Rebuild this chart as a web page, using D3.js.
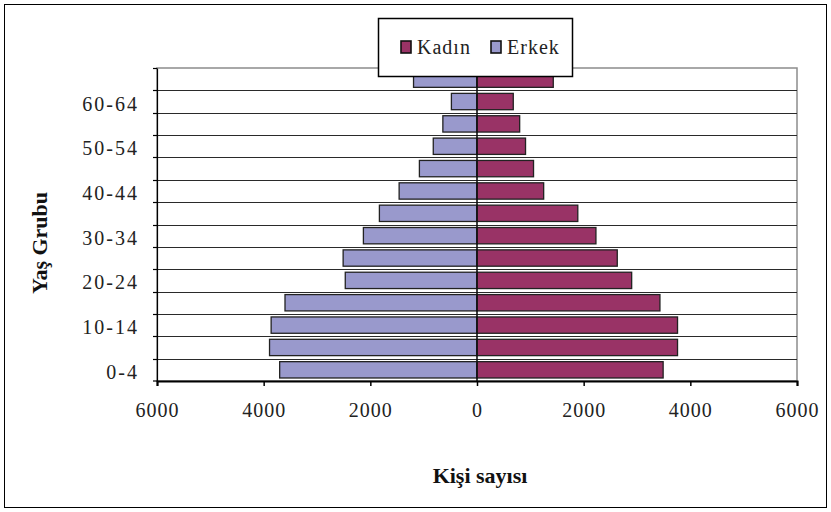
<!DOCTYPE html>
<html><head><meta charset="utf-8">
<script src="https://cdn.jsdelivr.net/npm/d3@7"></script>
<style>body{margin:0;background:#fff}svg{display:block}
svg text{font-family:"Liberation Serif","DejaVu Serif",serif !important;}</style>
</head><body>
<svg id="c" width="831" height="512"></svg>
<script>
const ageGroups = ["0-4","5-9","10-14","15-19","20-24","25-29","30-34","35-39","40-44","45-49","50-54","55-59","60-64","65+"];
const kadin = [3490, 3760, 3760, 3430, 2900, 2630, 2230, 1890, 1250, 1060, 910, 800, 680, 1430];
const erkek = [3700, 3890, 3860, 3600, 2470, 2510, 2130, 1830, 1460, 1080, 820, 640, 480, 1190];
const xTicks = [-6000, -4000, -2000, 0, 2000, 4000, 6000];
const seriesNames = ["Kadın", "Erkek"];
const colors = {"Kadın": "#993366", "Erkek": "#9999cc"};

const svg = d3.select("#c");
svg.append("rect").attr("x",4.5).attr("y",4.5).attr("width",822).attr("height",503)
  .attr("fill","#fff").attr("stroke","#000").attr("stroke-width",1);

const L = 157, R = 797, T = 68, B = 381;
const x = d3.scaleLinear().domain([-6000, 6000]).range([L, R]);
const y = d3.scaleBand().domain(ageGroups).range([B, T]).paddingInner(0.27).paddingOuter(0.135);
const yb = d3.scaleBand().domain(ageGroups).range([B, T]);

// plot border
svg.append("rect").attr("x",L).attr("y",T).attr("width",R-L).attr("height",B-T)
  .attr("fill","none").attr("stroke","#8c8c8c").attr("stroke-width",1.5);
// gridlines at category boundaries
const g = svg.append("g");
ageGroups.forEach((a,i)=>{ if(i===ageGroups.length-1) return;
  const yy = Math.round(yb(a)) + 0.5;
  g.append("line").attr("x1",L).attr("x2",R).attr("y1",yy).attr("y2",yy)
   .attr("stroke","#2a2a2a").attr("stroke-width",1.2);
});

// bars
const bars = svg.append("g");
ageGroups.forEach((a,i)=>{
  bars.append("rect").attr("x",x(-erkek[i])).attr("y",y(a)).attr("width",x(0)-x(-erkek[i])).attr("height",y.bandwidth())
    .attr("fill",colors["Erkek"]).attr("stroke","#222").attr("stroke-width",1.3);
  bars.append("rect").attr("x",x(0)).attr("y",y(a)).attr("width",x(kadin[i])-x(0)).attr("height",y.bandwidth())
    .attr("fill",colors["Kadın"]).attr("stroke","#222").attr("stroke-width",1.3);
});
// zero line
svg.append("line").attr("x1",x(0)).attr("x2",x(0)).attr("y1",T).attr("y2",B)
  .attr("stroke","#111").attr("stroke-width",1.6);

// x axis
const xa = svg.append("g").attr("transform",`translate(0,${B})`)
  .call(d3.axisBottom(x).tickValues(xTicks).tickFormat(d=>Math.abs(d)).tickSize(5).tickPadding(17));
xa.select(".domain").attr("stroke","#000").attr("stroke-width",2);
xa.selectAll(".tick line").attr("stroke","#000").attr("stroke-width",1.5);
xa.selectAll("text").attr("font-size",20).attr("letter-spacing",1).attr("fill","#222");

// y axis
const ya = svg.append("g").attr("transform",`translate(${L},0)`)
  .call(d3.axisLeft(yb).tickSize(0).tickPadding(18).tickFormat((d,i)=> i%2===0 ? d : ""));
ya.select(".domain").attr("stroke","#000").attr("stroke-width",1.2);
ya.selectAll("text").attr("font-size",20).attr("letter-spacing",2).attr("dy","0.45em").attr("fill","#222");
// y ticks at boundaries
ageGroups.forEach((a,i)=>{
  const yy = Math.round(yb(a)) + 0.5;
  svg.append("line").attr("x1",L-4).attr("x2",L).attr("y1",yy).attr("y2",yy).attr("stroke","#000").attr("stroke-width",1.2);
});
svg.append("line").attr("x1",L-4).attr("x2",L).attr("y1",B).attr("y2",B).attr("stroke","#000").attr("stroke-width",1.2);

// axis titles
svg.append("text").attr("x",480).attr("y",483).attr("text-anchor","middle")
  .attr("font-size",22).attr("font-weight","bold").attr("fill","#111").text("Kişi sayısı");
svg.append("text").attr("transform","translate(47,243) rotate(-90)").attr("text-anchor","middle")
  .attr("font-size",22).attr("font-weight","bold").attr("fill","#111").text("Yaş Grubu");

// legend
const lg = svg.append("g");
lg.append("rect").attr("x",378.5).attr("y",18.5).attr("width",194).attr("height",58)
  .attr("fill","#fff").attr("stroke","#000").attr("stroke-width",1.5);
const lx = [401, 491];
seriesNames.forEach((s,i)=>{
  lg.append("rect").attr("x",lx[i]).attr("y",41).attr("width",10).attr("height",12)
    .attr("fill",colors[s]).attr("stroke","#111").attr("stroke-width",1.6);
  lg.append("text").attr("x",lx[i]+16).attr("y",54).attr("font-size",20).attr("letter-spacing",1)
    .attr("fill","#222").text(s);
});
</script>
</body></html>
